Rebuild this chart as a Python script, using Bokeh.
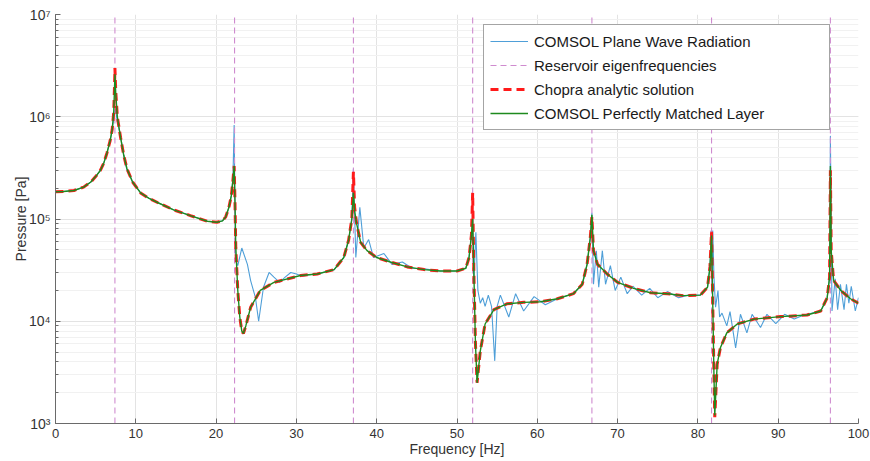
from bokeh.plotting import figure
from bokeh.models import Range1d, CustomJSTickFormatter, LogTicker, FixedTicker, ColumnDataSource
from bokeh.embed import file_html
from bokeh.resources import INLINE

# ---------------- data ----------------
eigen_freqs = [7.4, 22.3, 37.1, 51.95, 66.8, 81.7, 96.5]

chopra_f = [0, 1.0, 2.3, 3.5, 4.4, 5.0, 5.6, 6.0, 6.4, 6.8, 7.06, 7.25, 7.35, 7.4, 7.5, 7.7,
            8.1, 8.5, 8.9, 9.6, 10.6, 11.6, 12.7, 14.7, 16.8, 18.9, 20.1, 20.8, 21.2, 21.6, 21.9,
            22.1, 22.25, 22.35, 22.45, 22.7, 22.95, 23.2, 23.4, 23.7, 24.3, 25.5, 27.2, 30.5, 32.6,
            34.7, 35.9, 36.5, 36.9, 37.1, 37.25, 37.5, 38.0, 38.8, 40.0, 41.7, 43.8, 45.9, 47.9,
            50.0, 51.1, 51.5, 51.8, 51.95, 52.1, 52.3, 52.5, 52.9, 53.5, 54.6, 56.2, 58.3, 60.4,
            62.5, 64.5, 65.6, 66.2, 66.6, 66.8, 67.0, 67.5, 68.7, 70.0, 72.0, 74.1, 76.2, 78.2,
            80.3, 81.2, 81.5, 81.7, 81.85, 82.0, 82.1, 82.4, 82.8, 83.6, 84.9, 87.0, 90.3, 93.6,
            95.3, 96.1, 96.4, 96.5, 96.6, 96.9, 97.8, 99.0, 100.0]
chopra_p = [1.85e5, 1.86e5, 1.9e5, 2.05e5, 2.3e5, 2.6e5, 3.0e5, 3.5e5, 4.4e5, 5.8e5, 7.5e5, 1.1e6, 2.0e6, 3.0e6, 1.8e6, 1.0e6,
            6.3e5, 4.2e5, 3.1e5, 2.3e5, 1.8e5, 1.6e5, 1.45e5, 1.23e5, 1.08e5, 9.5e4, 9.3e4, 9.6e4, 1.05e5, 1.3e5, 1.7e5,
            2.4e5, 3.3e5, 1.5e5, 5.3e4, 2.0e4, 1.1e4, 8.0e3, 7.6e3, 9.0e3, 1.37e4, 2.0e4, 2.4e4, 2.8e4, 2.9e4,
            3.2e4, 4.2e4, 6.2e4, 1.0e5, 2.9e5, 1.3e5, 9.0e4, 5.9e4, 4.9e4, 4.2e4, 3.8e4, 3.4e4, 3.2e4, 3.1e4,
            3.1e4, 3.3e4, 4.2e4, 7.0e4, 1.8e5, 3.0e4, 6.0e3, 2.5e3, 5.1e3, 9.4e3, 1.3e4, 1.48e4, 1.53e4, 1.55e4,
            1.66e4, 1.86e4, 2.3e4, 3.6e4, 6.6e4, 1.05e5, 4.9e4, 3.6e4, 2.9e4, 2.4e4, 2.1e4, 1.9e4, 1.86e4, 1.78e4,
            1.8e4, 2.15e4, 3.4e4, 7.5e4, 1.5e4, 3.0e3, 1.15e3, 3.8e3, 5.5e3, 7.7e3, 9.4e3, 1.05e4, 1.11e4, 1.15e4,
            1.26e4, 1.7e4, 2.7e4, 3.0e5, 4.9e4, 2.5e4, 2.0e4, 1.66e4, 1.5e4]

pml_f = chopra_f
pml_p = [1.85e5, 1.86e5, 1.9e5, 2.05e5, 2.3e5, 2.6e5, 3.0e5, 3.5e5, 4.4e5, 5.8e5, 7.5e5, 1.1e6, 1.9e6, 2.6e6, 1.7e6, 1.0e6,
         6.3e5, 4.2e5, 3.1e5, 2.3e5, 1.8e5, 1.6e5, 1.45e5, 1.23e5, 1.08e5, 9.5e4, 9.3e4, 9.6e4, 1.05e5, 1.3e5, 1.7e5,
         2.4e5, 3.3e5, 1.5e5, 5.3e4, 2.0e4, 1.1e4, 8.0e3, 7.6e3, 9.0e3, 1.37e4, 2.0e4, 2.4e4, 2.8e4, 2.9e4,
         3.2e4, 4.2e4, 6.2e4, 1.0e5, 1.8e5, 1.2e5, 9.0e4, 5.9e4, 4.9e4, 4.2e4, 3.8e4, 3.4e4, 3.2e4, 3.1e4,
         3.1e4, 3.3e4, 4.2e4, 7.0e4, 1.0e5, 3.0e4, 6.0e3, 2.5e3, 5.1e3, 9.4e3, 1.3e4, 1.48e4, 1.53e4, 1.55e4,
         1.66e4, 1.86e4, 2.3e4, 3.6e4, 6.6e4, 1.1e5, 4.9e4, 3.6e4, 2.9e4, 2.4e4, 2.1e4, 1.9e4, 1.86e4, 1.78e4,
         1.8e4, 2.15e4, 3.4e4, 6.9e4, 1.5e4, 3.0e3, 1.2e3, 3.8e3, 5.5e3, 7.7e3, 9.4e3, 1.05e4, 1.11e4, 1.15e4,
         1.26e4, 1.7e4, 2.7e4, 3.3e5, 4.9e4, 2.5e4, 2.0e4, 1.66e4, 1.5e4]

pwr_f = [0, 1.0, 2.3, 3.5, 4.4, 5.0, 5.6, 6.0, 6.4, 6.8, 7.06, 7.3, 7.45, 7.7, 8.1, 8.5, 8.9, 9.3, 9.6,
         10.6, 11.6, 12.7, 14.7, 16.8, 18.9, 20.1, 20.8, 21.2, 21.6, 21.9, 22.1, 22.25, 22.35, 22.45,
         22.7, 23.2, 23.9, 24.3, 24.9, 25.3, 25.9, 26.6, 27.2, 27.9, 28.6, 29.3, 30.0, 30.8, 31.6, 32.6,
         34.7, 35.9, 36.5, 36.9, 37.1, 37.4, 37.9, 38.4, 39.0, 39.6, 40.9, 41.9, 43.2, 44.4, 45.9, 47.9,
         50.0, 51.1, 51.5, 51.8, 51.95, 52.1, 52.35, 52.6, 52.9, 53.2, 53.5, 53.9, 54.3, 54.7, 55.0, 55.4,
         56.45, 57.3, 58.3, 59.6, 61.0, 62.5, 64.5, 65.6, 66.2, 66.6, 66.8, 67.0, 67.35, 67.65, 68.1, 68.5,
         69.1, 69.7, 70.4, 71.2, 71.9, 73.0, 74.0, 75.0, 76.2, 77.6, 78.8, 80.3, 81.2, 81.5, 81.65, 81.75,
         81.85, 82.0, 82.2, 82.5, 82.7, 83.0, 83.6, 84.0, 84.7, 85.3, 86.1, 86.75, 87.8, 88.6, 89.7, 90.8,
         92.0, 93.2, 95.3, 96.1, 96.4, 96.5, 96.7, 97.1, 97.4, 97.75, 98.2, 98.5, 98.8, 99.1, 99.6, 100.0]
pwr_p = [1.85e5, 1.86e5, 1.9e5, 2.05e5, 2.3e5, 2.6e5, 3.0e5, 3.5e5, 4.4e5, 5.8e5, 7.5e5, 1.0e6, 1.2e6, 9.0e5, 6.5e5, 4.2e5, 3.0e5, 2.6e5, 2.3e5,
         1.8e5, 1.6e5, 1.45e5, 1.23e5, 1.08e5, 9.5e4, 9.3e4, 9.6e4, 1.05e5, 1.3e5, 1.7e5, 2.6e5, 8.3e5, 1.2e5, 3.9e4,
         3.5e4, 5.2e4, 3.6e4, 2.5e4, 1.7e4, 1.0e4, 2.15e4, 3.0e4, 2.7e4, 2.4e4, 2.7e4, 3.0e4, 2.9e4, 2.75e4, 2.85e4, 2.9e4,
         3.2e4, 4.2e4, 6.2e4, 1.0e5, 3.1e5, 4.2e4, 1.3e5, 5.2e4, 6.3e4, 4.2e4, 4.6e4, 3.6e4, 3.8e4, 3.3e4, 3.25e4, 3.1e4,
         3.1e4, 3.3e4, 4.2e4, 7.0e4, 1.0e5, 2.5e4, 7.4e4, 2.0e4, 1.5e4, 1.7e4, 1.4e4, 1.8e4, 1.4e4, 4.1e3, 1.4e4, 1.8e4,
         1.1e4, 1.86e4, 1.26e4, 1.74e4, 1.45e4, 1.66e4, 1.86e4, 2.3e4, 3.6e4, 6.6e4, 1.15e5, 2.3e4, 4.9e4, 2.15e4, 4.9e4, 2.3e4,
         3.5e4, 2.0e4, 2.7e4, 1.86e4, 2.2e4, 1.8e4, 2.1e4, 1.7e4, 1.95e4, 1.7e4, 1.8e4, 1.8e4, 2.15e4, 3.4e4, 7.7e4, 3.0e4,
         7.7e4, 2.7e4, 1.37e4, 2.0e4, 1.1e4, 1.2e4, 9.0e3, 1.24e4, 5.5e3, 1.17e4, 7.7e3, 1.17e4, 8.7e3, 1.17e4, 9.5e3, 1.17e4,
         1.05e4, 1.15e4, 1.26e4, 1.7e4, 2.7e4, 6.5e5, 1.26e4, 2.6e4, 1.3e4, 2.3e4, 1.3e4, 2.3e4, 1.5e4, 2.2e4, 1.26e4, 1.7e4]

x_ticks = [0, 10, 20, 30, 40, 50, 60, 70, 80, 90, 100]
x_min, x_max = 0, 100
y_min, y_max = 1e3, 1e7

FONT = "Liberation Sans"

p = figure(width=870, height=461, x_axis_type="linear", y_axis_type="log",
           x_range=Range1d(x_min, x_max), y_range=Range1d(y_min, y_max),
           output_backend="svg", toolbar_location=None,
           min_border_left=55, min_border_right=12, min_border_top=14, min_border_bottom=38)
p.outline_line_color = None
p.background_fill_color = "white"

# grids
p.xgrid.ticker = FixedTicker(ticks=x_ticks)
p.xgrid.grid_line_color = "#E3E3E3"
p.ygrid.grid_line_color = "#E3E3E3"
p.ygrid.minor_grid_line_color = "#F1F1F1"

# axes
p.xaxis.ticker = FixedTicker(ticks=x_ticks)
p.yaxis.ticker = LogTicker(num_minor_ticks=10)
p.yaxis.formatter = CustomJSTickFormatter(code="""
const sup = {'0':'\u2070','1':'\u00b9','2':'\u00b2','3':'\u00b3','4':'\u2074','5':'\u2075','6':'\u2076','7':'\u2077','8':'\u2078','9':'\u2079','-':'\u207b'};
const e = Math.round(Math.log10(tick));
return '10' + String(e).split('').map(c => sup[c]).join('');
""")
for ax in (p.xaxis, p.yaxis):
    ax.axis_line_color = "#6A6A6A"
    ax.major_tick_line_color = "#6A6A6A"
    ax.minor_tick_line_color = "#6A6A6A"
    ax.major_tick_in = 5
    ax.major_tick_out = 0
    ax.minor_tick_in = 3
    ax.minor_tick_out = 0
    ax.major_label_text_font = FONT
    ax.major_label_text_font_size = "13px"
    ax.major_label_text_color = "#333333"
    ax.axis_label_text_font = FONT
    ax.axis_label_text_font_size = "14px"
    ax.axis_label_text_font_style = "normal"
    ax.axis_label_text_color = "#333333"
p.yaxis.major_label_text_font_size = "14px"
p.xaxis.minor_tick_line_color = None
p.xaxis.axis_label = "Frequency [Hz]"
p.yaxis.axis_label = "Pressure [Pa]"
p.xaxis.major_label_standoff = 5
p.xaxis.axis_label_standoff = 0
p.yaxis.major_label_standoff = 5
p.yaxis.axis_label_standoff = -3

# curves
p.line(pwr_f, pwr_p, line_color="#4F9FD8", line_width=1.1, legend_label="COMSOL Plane Wave Radiation")
eig = ColumnDataSource(dict(f=eigen_freqs, lo=[y_min] * len(eigen_freqs), hi=[y_max] * len(eigen_freqs)))
p.segment(x0="f", y0="lo", x1="f", y1="hi", source=eig, line_color="#CF8BCF", line_width=1.1,
          line_dash="6 4", legend_label="Reservoir eigenfrequencies")
p.line(chopra_f, chopra_p, line_color="#FF1A1A", line_width=3, line_dash="8 5",
       legend_label="Chopra analytic solution")
p.line(pml_f, pml_p, line_color="#1E8A1E", line_width=1.4, legend_label="COMSOL Perfectly Matched Layer")

leg = p.legend[0]
leg.location = (428, 293)
leg.margin = 0
leg.padding = 6
leg.spacing = 4
leg.glyph_width = 38
leg.glyph_height = 20
leg.label_standoff = 6
leg.label_width = 289
leg.label_text_font = FONT
leg.label_text_font_size = "15px"
leg.label_text_color = "#1A1A1A"
leg.border_line_color = "#4A4A4A"
leg.border_line_width = 1
leg.background_fill_color = "white"
leg.background_fill_alpha = 1

open("out.html", "w").write(file_html(p, INLINE))
